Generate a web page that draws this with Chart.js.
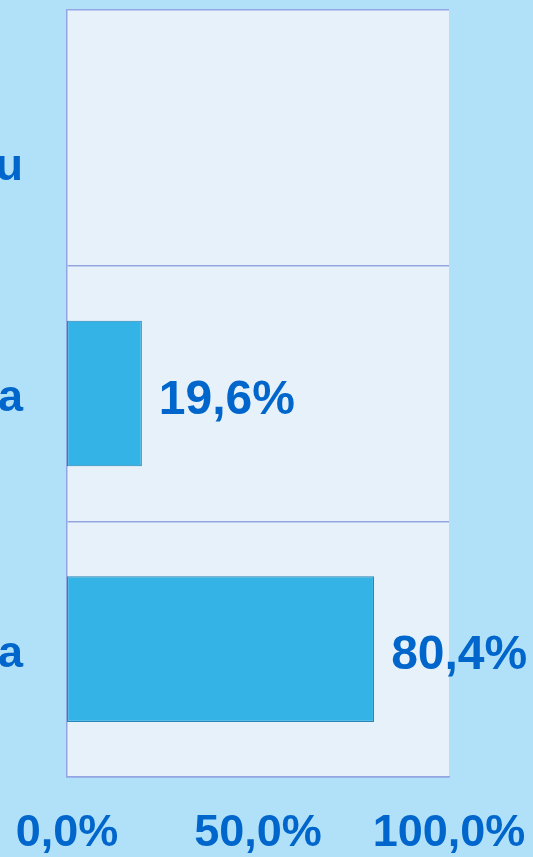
<!DOCTYPE html>
<html>
<head>
<meta charset="utf-8">
<script src="https://cdn.jsdelivr.net/npm/chart.js@4/dist/chart.umd.min.js"></script>
<style>
  html, body { margin: 0; padding: 0; background: #b1e1f9; }
  #wrap { width: 533px; height: 857px; }
</style>
</head>
<body>
<div id="wrap"><canvas id="barChart"></canvas></div>
<script>
// data (category names are cut off at the left edge,
// the first one is on two lines and only the end of its second line shows)
const categories = [["", "u"], "a", "a"];
const shares = [null, 19.6, 80.4];
const axisTicks = [0, 50, 100];

const textBlue = "#0066cc";
const fontFamily = "'Liberation Sans', Arial, sans-serif";

function pct(v) {
  return v.toFixed(1).replace(".", ",") + "%";
}

// light panel behind the plot
const plotBg = {
  id: "plotBg",
  beforeDraw(chart) {
    const a = chart.chartArea;
    const ctx = chart.ctx;
    ctx.save();
    ctx.fillStyle = "#e7f1fa";
    ctx.fillRect(a.left, a.top, a.right - a.left, a.bottom - a.top);
    ctx.restore();
  }
};

// value labels right of each bar
const valueLabels = {
  id: "valueLabels",
  afterDatasetsDraw(chart) {
    const ctx = chart.ctx;
    const meta = chart.getDatasetMeta(0);
    ctx.save();
    ctx.font = "bold 48px " + fontFamily;
    ctx.fillStyle = textBlue;
    ctx.textAlign = "left";
    ctx.textBaseline = "middle";
    meta.data.forEach((bar, i) => {
      const v = shares[i];
      if (v == null) return;
      ctx.fillText(pct(v), bar.x + 17, bar.y + 7);
    });
    ctx.restore();
  }
};

window.addEventListener("load", function () {
  const ctx = document.getElementById("barChart").getContext("2d");
  new Chart(ctx, {
    type: "bar",
    data: {
      labels: categories,
      datasets: [{
        data: shares,
        backgroundColor: "#33b3e6",
        borderColor: "#2a86b6",
        borderWidth: 1.2,
        borderSkipped: false,
        categoryPercentage: 1,
        barPercentage: 0.57
      }]
    },
    options: {
      indexAxis: "y",
      responsive: true,
      maintainAspectRatio: false,
      animation: false,
      layout: { padding: { top: 10, right: 84, left: 0, bottom: 0 } },
      plugins: {
        legend: { display: false },
        tooltip: { enabled: false }
      },
      scales: {
        x: {
          min: 0,
          max: 100,
          afterBuildTicks(scale) {
            scale.ticks = axisTicks.map(v => ({ value: v }));
          },
          afterFit(scale) {
            scale.height = 80;
            scale.paddingLeft = 0;
            scale.paddingRight = 0;
          },
          grid: { display: false, drawTicks: false },
          border: { display: true, color: "#93a5e3", width: 1.5 },
          ticks: {
            color: textBlue,
            font: { family: fontFamily, size: 45, weight: "bold" },
            padding: 30,
            maxRotation: 0,
            autoSkip: false,
            callback: v => pct(v)
          }
        },
        y: {
          afterFit(scale) {
            scale.width = 67;
            scale.paddingTop = 0;
            scale.paddingBottom = 0;
          },
          grid: {
            offset: true,
            color: "#93a5e3",
            lineWidth: 1.5,
            drawTicks: false
          },
          border: { display: true, color: "#93a5e3", width: 1.5 },
          ticks: {
            color: textBlue,
            font: { family: fontFamily, size: 45, weight: "bold", lineHeight: 1.1 },
            padding: 44,
            labelOffset: 5
          }
        }
      }
    },
    plugins: [plotBg, valueLabels]
  });
});
</script>
</body>
</html>
